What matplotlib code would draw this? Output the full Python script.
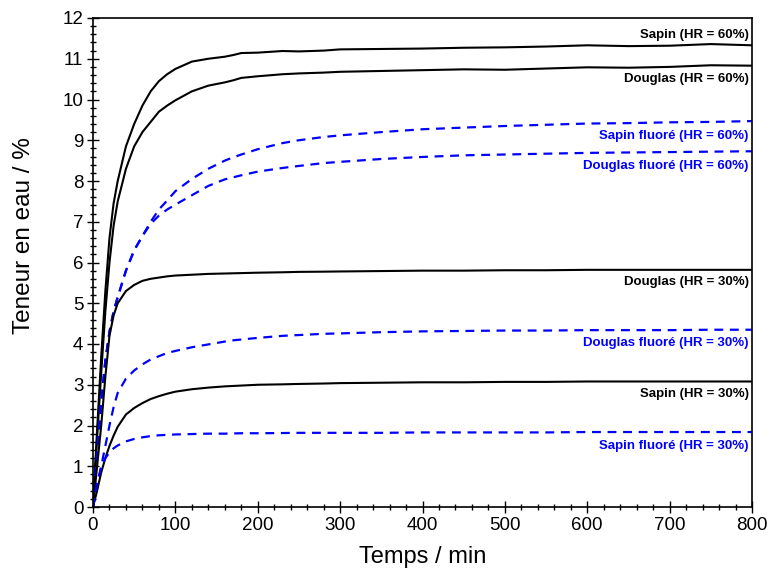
import matplotlib
matplotlib.use("Agg")
import matplotlib.pyplot as plt
from matplotlib.ticker import MultipleLocator

plt.rcParams['font.family'] = ['Liberation Sans', 'DejaVu Sans']

# Time (min)
temps = [0, 5, 10, 15, 20, 25, 30, 40, 50, 60, 70, 80, 90, 100, 120, 140, 160, 170, 180,
         200, 230, 250, 280, 300, 350, 400, 450, 500, 550, 600, 650, 700, 750, 800]

sapin_60 = [0, 1.9, 3.7, 5.3, 6.6, 7.45, 8.0, 8.85, 9.4, 9.85, 10.2, 10.45, 10.62, 10.75,
            10.93, 11.0, 11.05, 11.09, 11.14, 11.15, 11.19, 11.18, 11.2, 11.23, 11.24,
            11.25, 11.27, 11.28, 11.3, 11.33, 11.31, 11.32, 11.36, 11.33]
douglas_60 = [0, 1.7, 3.3, 4.8, 6.0, 6.9, 7.5, 8.3, 8.85, 9.2, 9.45, 9.7, 9.85, 9.98,
              10.2, 10.34, 10.42, 10.47, 10.53, 10.57, 10.62, 10.64, 10.66, 10.68, 10.7,
              10.72, 10.74, 10.73, 10.76, 10.79, 10.78, 10.8, 10.84, 10.83]
sapin_fluore_60 = [0, 1.3, 2.6, 3.6, 4.3, 4.8, 5.15, 5.8, 6.3, 6.65, 7.0, 7.3, 7.52, 7.75,
                   8.05, 8.3, 8.5, 8.58, 8.65, 8.78, 8.93, 9.0, 9.08, 9.12, 9.2, 9.27,
                   9.31, 9.35, 9.38, 9.41, 9.42, 9.44, 9.45, 9.47]
douglas_fluore_60 = [0, 1.3, 2.6, 3.6, 4.3, 4.8, 5.15, 5.8, 6.3, 6.65, 6.95, 7.15, 7.3, 7.42,
                     7.65, 7.88, 8.04, 8.09, 8.14, 8.23, 8.32, 8.37, 8.44, 8.47, 8.54,
                     8.59, 8.63, 8.65, 8.67, 8.69, 8.7, 8.71, 8.72, 8.73]
douglas_30 = [0, 1.0, 2.0, 3.2, 4.2, 4.7, 5.0, 5.3, 5.45, 5.55, 5.6, 5.63, 5.66, 5.68,
              5.7, 5.72, 5.73, 5.735, 5.74, 5.75, 5.76, 5.77, 5.775, 5.78, 5.79, 5.8,
              5.8, 5.81, 5.81, 5.82, 5.82, 5.82, 5.82, 5.82]
douglas_fluore_30 = [0, 0.5, 1.0, 1.5, 2.0, 2.45, 2.8, 3.15, 3.35, 3.5, 3.62, 3.7, 3.78, 3.83,
                     3.92, 3.99, 4.06, 4.09, 4.11, 4.15, 4.2, 4.22, 4.25, 4.26, 4.29,
                     4.31, 4.32, 4.33, 4.33, 4.34, 4.34, 4.34, 4.35, 4.35]
sapin_30 = [0, 0.4, 0.85, 1.2, 1.5, 1.75, 1.97, 2.27, 2.43, 2.55, 2.65, 2.72, 2.78, 2.83,
            2.89, 2.93, 2.96, 2.97, 2.98, 3.0, 3.01, 3.02, 3.03, 3.04, 3.05, 3.06,
            3.06, 3.07, 3.07, 3.08, 3.08, 3.08, 3.08, 3.08]
sapin_fluore_30 = [0, 0.6, 0.98, 1.2, 1.34, 1.44, 1.51, 1.61, 1.67, 1.71, 1.74, 1.76, 1.77,
                   1.78, 1.79, 1.8, 1.8, 1.805, 1.81, 1.81, 1.815, 1.82, 1.82, 1.82, 1.82,
                   1.83, 1.83, 1.83, 1.83, 1.84, 1.84, 1.84, 1.84, 1.84]

labels = ["Sapin (HR = 60%)", "Douglas (HR = 60%)", "Sapin fluoré (HR = 60%)",
          "Douglas fluoré (HR = 60%)", "Douglas (HR = 30%)", "Douglas fluoré (HR = 30%)",
          "Sapin (HR = 30%)", "Sapin fluoré (HR = 30%)"]
label_y = [11.58, 10.50, 9.10, 8.37, 5.52, 4.02, 2.77, 1.50]

series = [sapin_60, douglas_60, sapin_fluore_60, douglas_fluore_60,
          douglas_30, douglas_fluore_30, sapin_30, sapin_fluore_30]
fluore = [False, False, True, True, False, True, False, True]

fig = plt.figure(figsize=(7.72, 5.70), dpi=100)
ax = fig.add_axes([93 / 772, 1 - 507 / 570, (752 - 93) / 772, (507 - 18) / 570])

for ys, fl, lab, ly in zip(series, fluore, labels, label_y):
    if fl:
        ax.plot(temps, ys, color='#0000ff', lw=1.6, linestyle=(0, (4, 3)))
        col = '#0000ff'
    else:
        ax.plot(temps, ys, color='black', lw=1.5)
        col = 'black'
    ax.text(796, ly, lab, ha='right', va='center', fontsize=9.5,
            fontweight='bold', color=col)

ax.set_xlim(0, 800)
ax.set_ylim(0, 12)
ax.xaxis.set_major_locator(MultipleLocator(100))
ax.xaxis.set_minor_locator(MultipleLocator(20))
ax.yaxis.set_major_locator(MultipleLocator(1))
ax.yaxis.set_minor_locator(MultipleLocator(0.2))
ax.tick_params(which='major', direction='inout', length=8, width=1, labelsize=13.5,
               top=False, right=False, pad=3)
ax.tick_params(which='minor', direction='inout', length=5, width=1,
               top=False, right=False)
for s in ax.spines.values():
    s.set_linewidth(1.2)

ax.set_xlabel("Temps / min", fontsize=17, labelpad=9)
ax.set_ylabel("Teneur en eau / %", fontsize=17.5)
ax.yaxis.set_label_coords(-0.088, 0.556)

fig.savefig("out.png", dpi=100)
